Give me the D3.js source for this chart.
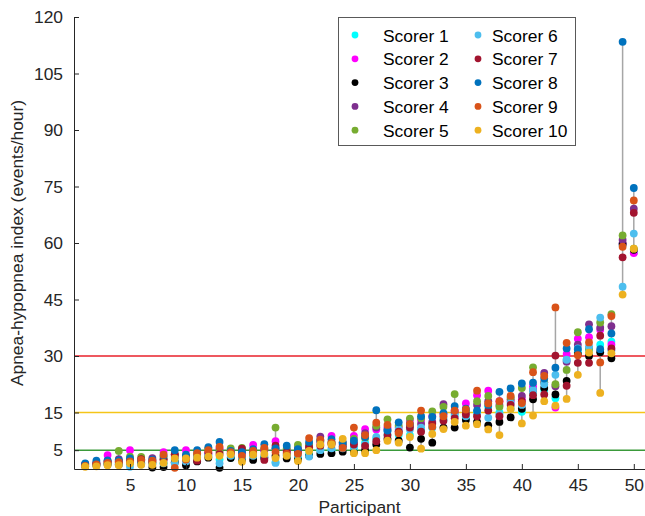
<!DOCTYPE html>
<html><head><meta charset="utf-8">
<script src="https://cdn.jsdelivr.net/npm/d3@7"></script>
<style>
html,body{margin:0;padding:0;background:#fff;}
svg{display:block;font-family:"Liberation Sans",Arial,sans-serif;}
</style></head>
<body><svg id="c" width="645" height="516"></svg>
<script>
const participants = d3.range(1, 51);
const scorerNames = ["Scorer 1","Scorer 2","Scorer 3","Scorer 4","Scorer 5","Scorer 6","Scorer 7","Scorer 8","Scorer 9","Scorer 10"];
const scorerColors = ["#00ffff","#ff00ff","#000000","#7e2f8e","#77ac30","#4dbeee","#a2142f","#0072bd","#d95319","#edb120"];
const yTicks = [5,15,30,45,60,75,90,105,120];
const xTicks = [5,10,15,20,25,30,35,40,45,50];
const thresholds = [5,15,30];
const thresholdColors = ["#3a9a3a","#f5c518","#e8202a"];

// values per participant: [s1..s10]
const p01=[1.0,1.2,0.8,1.2,0.8,0.8,1.3,1.5,0.8,0.6];
const p02=[1.5,1.5,1.0,1.3,1.3,1.0,1.6,2.2,1.2,0.7];
const p03=[1.5,3.7,1.2,2.0,1.5,1.3,2.0,2.3,1.6,1.0];
const p04=[1.5,2.0,1.2,2.6,4.8,1.3,2.0,2.3,1.8,1.0];
const p05=[1.5,5.0,1.8,2.5,3.3,0.6,2.3,2.8,2.0,1.5];
const p06=[1.8,2.5,1.5,2.2,3.2,1.2,2.6,2.3,2.4,1.1];
const p07=[1.5,2.3,0.4,2.9,2.0,1.3,1.8,2.5,2.2,1.1];
const p08=[1.5,4.5,0.5,2.5,3.0,1.5,2.5,3.5,3.8,1.6];
const p09=[2.5,3.8,1.8,3.2,3.8,1.5,3.9,5.0,0.3,2.8];
const p10=[2.5,5.0,1.0,3.0,3.3,2.0,3.5,3.8,2.5,2.8];
const p11=[3.0,4.0,2.0,3.5,4.0,3.0,2.2,5.0,4.2,3.0];
const p12=[3.5,4.2,3.0,4.0,5.5,3.8,4.5,5.8,5.0,3.3];
const p13=[2.5,5.5,0.3,5.0,4.5,1.5,4.0,7.2,5.9,3.5];
const p14=[3.0,4.0,2.9,4.5,5.5,3.5,4.2,4.8,4.5,3.9];
const p15=[3.0,4.0,2.5,4.5,5.6,3.0,5.4,4.5,3.5,1.9];
const p16=[3.5,6.4,2.4,4.5,4.5,3.5,4.0,5.3,4.8,3.8];
const p17=[3.0,5.0,3.0,5.0,5.5,3.5,2.4,6.6,5.6,4.0];
const p18=[1.8,7.4,3.5,5.5,11.0,1.6,6.2,5.5,4.5,2.9];
const p19=[3.5,5.0,2.8,5.0,5.5,4.0,4.5,6.2,4.0,3.5];
const p20=[3.0,5.0,2.5,5.5,6.4,3.7,4.5,5.3,4.0,2.1];
const p21=[4.0,6.5,3.5,6.0,6.5,3.3,5.8,7.2,8.2,4.8];
const p22=[5.0,7.0,4.0,8.6,7.5,5.0,6.2,7.5,7.8,6.5];
const p23=[5.0,8.8,4.2,7.0,7.0,5.5,6.5,7.9,7.0,6.5];
const p24=[6.0,7.0,4.6,6.5,7.0,5.5,6.0,7.0,5.6,8.0];
const p25=[5.5,8.8,4.5,7.0,8.0,6.0,6.5,7.5,11.0,4.2];
const p26=[7.0,10.6,5.0,9.5,8.2,6.5,6.1,8.5,9.0,4.2];
const p27=[8.0,10.5,6.5,11.0,11.5,8.5,7.4,15.6,12.3,5.0];
const p28=[9.0,11.0,8.0,10.5,13.2,10.0,9.0,10.2,11.7,7.5];
const p29=[9.0,11.0,7.5,10.0,11.5,10.5,9.9,12.4,9.5,7.0];
const p30=[9.0,13.0,5.7,11.5,13.4,10.5,11.0,12.0,12.0,8.5];
const p31=[10.5,13.0,8.0,12.0,13.5,11.0,9.9,14.0,15.5,5.4];
const p32=[11.0,14.0,7.0,12.5,15.3,11.0,12.0,13.8,11.2,9.3];
const p33=[13.0,14.5,11.0,17.2,16.5,13.5,12.8,14.8,14.0,10.6];
const p34=[14.5,15.5,11.0,15.0,19.9,14.0,13.5,16.7,15.5,12.5];
const p35=[13.5,17.4,13.0,15.0,15.5,14.0,14.5,16.0,15.8,11.5];
const p36=[15.0,19.6,12.5,17.0,18.0,14.5,14.0,15.5,20.8,11.9];
const p37=[16.5,20.8,11.6,18.0,19.4,13.6,15.5,17.0,17.4,10.5];
const p38=[15.0,18.0,12.5,17.0,16.5,14.5,14.0,20.5,18.0,9.0];
const p39=[16.0,18.0,13.7,18.5,19.0,17.5,17.0,21.4,19.4,15.9];
const p40=[15.2,18.5,16.0,19.4,21.5,17.0,18.0,22.7,17.5,12.1];
const p41=[20.0,22.0,18.5,21.0,27.0,21.0,19.6,22.9,25.7,14.2];
const p42=[21.0,23.0,21.5,25.5,23.0,22.5,19.8,24.0,24.7,18.0];
const p43=[18.8,16.3,19.8,22.0,22.5,25.0,30.1,26.9,42.9,16.8];
const p44=[29.0,30.5,23.4,28.5,26.3,29.0,22.1,32.0,33.5,18.6];
const p45=[31.0,34.6,30.5,33.0,36.3,32.0,28.2,31.8,30.2,25.0];
const p46=[31.5,35.0,30.0,38.4,32.0,32.5,28.2,37.1,33.6,30.9];
const p47=[33.0,37.0,31.0,37.5,38.9,40.2,35.4,31.8,28.3,20.2];
const p48=[33.8,33.0,29.4,37.9,41.1,31.5,32.0,36.0,40.6,30.7];
const p49=[59.5,59.8,59.8,60.8,62.0,48.4,56.2,113.4,59.0,46.3];
const p50=[57.5,57.3,58.2,69.1,58.5,62.5,68.0,74.6,71.3,58.5];

const values=[p01,p02,p03,p04,p05,p06,p07,p08,p09,p10,p11,p12,p13,p14,p15,p16,p17,p18,p19,p20,
p21,p22,p23,p24,p25,p26,p27,p28,p29,p30,p31,p32,p33,p34,p35,p36,p37,p38,p39,p40,
p41,p42,p43,p44,p45,p46,p47,p48,p49,p50];

const svg=d3.select("#c");
const m={l:74,r:0,t:17,b:47};
const W=645,H=516;
const x=d3.scaleLinear().domain([0,51]).range([m.l,W-m.r]);
const y=d3.scaleLinear().domain([0,120]).range([H-m.b,m.t]);
const axisCol="#262626";
const fs="17.4px";

// threshold lines
svg.append("g").selectAll("line").data(thresholds).join("line")
  .attr("x1",x(0)).attr("x2",x(51))
  .attr("y1",d=>y(d)).attr("y2",d=>y(d))
  .attr("stroke",(d,i)=>thresholdColors[i]).attr("stroke-width",1.5);

// range stems
svg.append("g").selectAll("line").data(participants).join("line")
  .attr("x1",d=>x(d)).attr("x2",d=>x(d))
  .attr("y1",(d,i)=>y(d3.min(values[i]))).attr("y2",(d,i)=>y(d3.max(values[i])))
  .attr("stroke","#a6a6a6").attr("stroke-width",1.5);

// points, scorer by scorer
scorerNames.forEach((s,k)=>{
  svg.append("g").selectAll("circle").data(participants).join("circle")
    .attr("cx",d=>x(d)).attr("cy",(d,i)=>y(values[i][k]))
    .attr("r",3.9).attr("fill",scorerColors[k]);
});

// axes
const xa=svg.append("g").attr("transform",`translate(0,${y(0)})`)
  .call(d3.axisBottom(x).tickValues(xTicks).tickSizeInner(-5).tickSizeOuter(0).tickPadding(10));
const ya=svg.append("g").attr("transform",`translate(${x(0)},0)`)
  .call(d3.axisLeft(y).tickValues(yTicks).tickSizeInner(-5).tickSizeOuter(0).tickPadding(11));
[xa,ya].forEach(a=>{
  a.select(".domain").attr("stroke",axisCol).attr("stroke-width",1);
  a.selectAll(".tick line").attr("stroke",axisCol);
  a.selectAll("text").attr("fill",axisCol).style("font-size",fs).style("font-family","'Liberation Sans',Arial,sans-serif");
});

svg.append("text").attr("x",(x(0)+W)/2).attr("y",513).attr("text-anchor","middle")
  .attr("fill",axisCol).style("font-size",fs).text("Participant");
svg.append("text").attr("transform",`translate(23,${(y(0)+y(120))/2}) rotate(-90)`)
  .attr("text-anchor","middle").attr("fill",axisCol).style("font-size",fs)
  .text("Apnea-hypopnea index (events/hour)");

// legend
const lg=svg.append("g");
lg.append("rect").attr("x",338.5).attr("y",17.5).attr("width",237).attr("height",128)
  .attr("fill","#fff").attr("stroke","#595959").attr("stroke-width",1);
scorerNames.forEach((s,k)=>{
  const col=Math.floor(k/5), row=k%5;
  const bx=col? 478:355, ty=36+row*23.8;
  lg.append("circle").attr("cx",bx).attr("cy",ty-1).attr("r",3.4).attr("fill",scorerColors[k]);
  lg.append("text").attr("x",bx+(col?14:28)).attr("y",ty+5.5).attr("fill","#000")
    .style("font-size",fs).text(s);
});
</script></body></html>
